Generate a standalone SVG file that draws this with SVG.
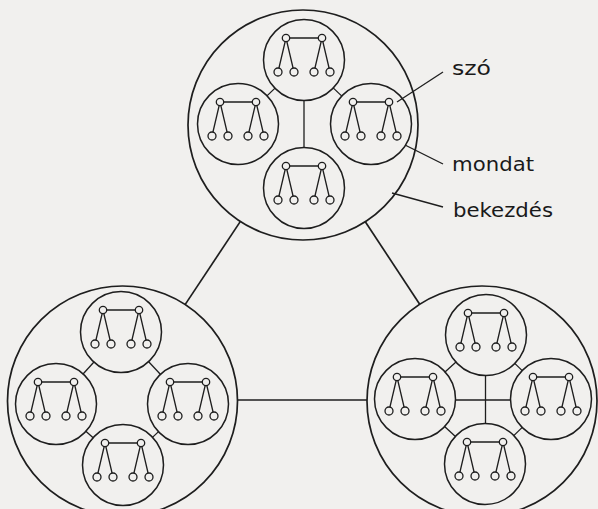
<svg xmlns="http://www.w3.org/2000/svg" xmlns:xlink="http://www.w3.org/1999/xlink" width="598" height="509" viewBox="0 0 598 509">
<style>
.bg{fill:#f1f0ee}
.b{fill:none;stroke:#1e1e1e;stroke-width:1.7}
.s{fill:none;stroke:#1e1e1e;stroke-width:1.5}
.l{fill:none;stroke:#1e1e1e;stroke-width:1.3}
.n{fill:#f1f0ee;stroke:#1e1e1e;stroke-width:1.3}
.t{font-family:"DejaVu Sans","Liberation Sans",sans-serif;font-size:19px;fill:#1a1a1a}
</style>
<defs>
<g id="sent">
<circle class="s" r="40.5"/>
<path class="l" d="M-18,-22 L-26,12 M-18,-22 L-10,12 M18,-22 L10,12 M18,-22 L26,12 M-18,-22 H18"/>
<circle class="n" cx="-18" cy="-22" r="3.7"/>
<circle class="n" cx="18" cy="-22" r="3.7"/>
<circle class="n" cx="-26" cy="12" r="4"/>
<circle class="n" cx="-10" cy="12" r="4"/>
<circle class="n" cx="10" cy="12" r="4"/>
<circle class="n" cx="26" cy="12" r="4"/>
</g>
</defs>
<rect class="bg" x="0" y="0" width="598" height="509"/>

<g id="connectors">
<line class="b" x1="240.4" y1="221.4" x2="185.1" y2="304.6"/>
<line class="b" x1="365.3" y1="221.7" x2="419.7" y2="304.3"/>
<line class="b" x1="237.5" y1="400" x2="367" y2="400"/>
<line class="l" x1="443" y1="72" x2="397" y2="102"/>
<line class="l" x1="443" y1="164" x2="405" y2="145"/>
<line class="l" x1="443" y1="207" x2="392" y2="193"/>
</g>

<g id="p1">
<circle class="b" cx="303" cy="125" r="115"/>
<g class="l">
<line x1="275.3" y1="87.9" x2="266.7" y2="96.1"/>
<line x1="332.9" y1="87.6" x2="342.1" y2="96.4"/>
<line x1="304" y1="100" x2="304" y2="148"/>
</g>
<use id="p1s1" xlink:href="#sent" x="304" y="60"/>
<use id="p1s2" xlink:href="#sent" x="238" y="124"/>
<use id="p1s3" xlink:href="#sent" x="371" y="124"/>
<use id="p1s4" xlink:href="#sent" x="304" y="188"/>
</g>

<g id="p2">
<circle class="b" cx="122.5" cy="401" r="115"/>
<g class="l">
<line x1="94.2" y1="361.7" x2="82.8" y2="374.3"/>
<line x1="148.2" y1="361.3" x2="160.8" y2="374.7"/>
<line x1="85.6" y1="430.9" x2="93.4" y2="438.1"/>
<line x1="158.8" y1="431.4" x2="152.2" y2="437.6"/>
</g>
<use id="p2s1" xlink:href="#sent" x="121" y="332"/>
<use id="p2s2" xlink:href="#sent" x="56" y="404"/>
<use id="p2s3" xlink:href="#sent" x="188" y="404"/>
<use id="p2s4" xlink:href="#sent" x="123" y="465"/>
</g>

<g id="p3">
<circle class="b" cx="482" cy="401" r="115"/>
<g class="l">
<line x1="456.3" y1="361.8" x2="444.7" y2="372.2"/>
<line x1="514.5" y1="363.1" x2="522.5" y2="370.9"/>
<line x1="444.3" y1="426.2" x2="455.7" y2="436.8"/>
<line x1="522.5" y1="427.1" x2="513.5" y2="435.9"/>
<line x1="485.5" y1="375" x2="485.5" y2="424"/>
<line x1="455" y1="400" x2="511" y2="400"/>
</g>
<use id="p3s1" xlink:href="#sent" x="486" y="335"/>
<use id="p3s2" xlink:href="#sent" x="415" y="399"/>
<use id="p3s3" xlink:href="#sent" x="551" y="399"/>
<use id="p3s4" xlink:href="#sent" x="485" y="464"/>
</g>

<g id="labels">
<text class="t" x="452" y="75" textLength="39" lengthAdjust="spacingAndGlyphs">szó</text>
<text class="t" x="452" y="171" textLength="82" lengthAdjust="spacingAndGlyphs">mondat</text>
<text class="t" x="453" y="217" textLength="100" lengthAdjust="spacingAndGlyphs">bekezdés</text>
</g>
</svg>
